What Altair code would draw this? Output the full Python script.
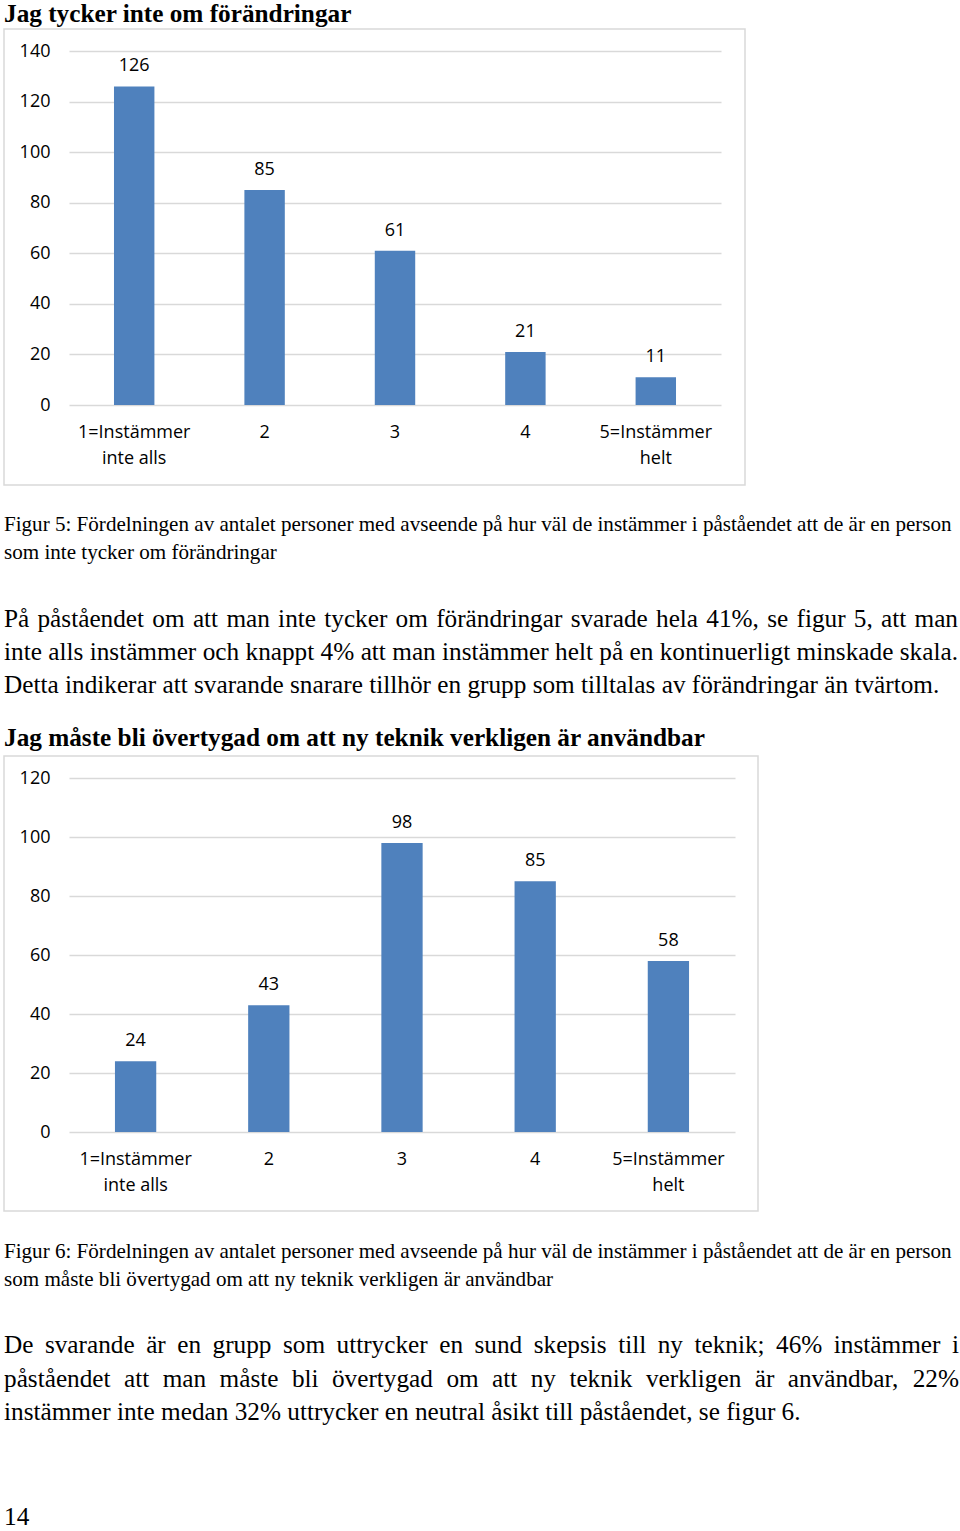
import altair as alt
import pandas as pd

# ---------------- data ----------------
categories = ["1=Instämmer|inte alls", "2", "3", "4", "5=Instämmer|helt"]
values_fig5 = [126, 85, 61, 21, 11]
values_fig6 = [24, 43, 98, 85, 58]
ticks_fig5 = [0, 20, 40, 60, 80, 100, 120, 140]
ticks_fig6 = [0, 20, 40, 60, 80, 100, 120]

title1 = "Jag tycker inte om förändringar"
title2 = "Jag måste bli övertygad om att ny teknik verkligen är användbar"
caption1 = [
    "Figur 5: Fördelningen av antalet personer med avseende på hur väl de instämmer i påståendet att de är en person",
    "som inte tycker om förändringar",
]
para1 = [
    "På påståendet om att man inte tycker om förändringar svarade hela 41%, se figur 5, att man",
    "inte alls instämmer och knappt 4% att man instämmer helt på en kontinuerligt minskade skala.",
    "Detta indikerar att svarande snarare tillhör en grupp som tilltalas av förändringar än tvärtom.",
]
caption2 = [
    "Figur 6: Fördelningen av antalet personer med avseende på hur väl de instämmer i påståendet att de är en person",
    "som måste bli övertygad om att ny teknik verkligen är användbar",
]
para2 = [
    "De svarande är en grupp som uttrycker en sund skepsis till ny teknik; 46% instämmer i",
    "påståendet att man måste bli övertygad om att ny teknik verkligen är användbar, 22%",
    "instämmer inte medan 32% uttrycker en neutral åsikt till påståendet, se figur 6.",
]
page_number = "14"

# ---------------- layout constants ----------------
W, H = 960, 1531
BAR = "#4F81BD"
GRID = "#d9d9d9"
SANS = "Open Sans"
SERIF = "Liberation Serif"

# Times metrics (per 1000 em) for text fitting
TR = {' ': 250, '%': 833, ',': 250, '.': 250, ':': 278, ';': 278,
      'D': 722, 'F': 556, 'P': 556, 'J': 389,
      'a': 444, 'b': 500, 'c': 444, 'd': 500, 'e': 444, 'f': 333, 'g': 500,
      'h': 500, 'i': 278, 'j': 278, 'k': 500, 'l': 278, 'm': 778, 'n': 500,
      'o': 500, 'p': 500, 'q': 500, 'r': 333, 's': 389, 't': 278, 'u': 500,
      'v': 500, 'w': 722, 'x': 500, 'y': 500, 'z': 444, 'å': 444, 'ä': 444, 'ö': 500}
TB = {' ': 250, 'J': 500,
      'a': 500, 'b': 556, 'c': 444, 'd': 556, 'e': 444, 'f': 333, 'g': 500,
      'h': 556, 'i': 278, 'j': 333, 'k': 556, 'l': 278, 'm': 833, 'n': 556,
      'o': 500, 'p': 556, 'q': 556, 'r': 444, 's': 389, 't': 333, 'u': 556,
      'v': 500, 'w': 722, 'x': 500, 'y': 500, 'z': 444, 'å': 500, 'ä': 500, 'ö': 500}


def em(s, table):
    return sum(table.get(c, 500) for c in s) / 1000.0


X0 = 4
para_size = (936 / em(para1[2], TR) + 797 / em(para2[2], TR)) / 2
cap_size = (273 / em(caption1[1], TR) + 549 / em(caption2[1], TR)) / 2
title_size = (348 / em(title1, TB) + 702 / em(title2, TB)) / 2


def place(lines, ys, size, justify_to=None, justified=()):
    rows = []
    for i, (line, y) in enumerate(zip(lines, ys)):
        if i in justified:
            words = line.split(" ")
            widths = [em(w, TR) * size for w in words]
            gap = (justify_to - X0 - sum(widths)) / (len(words) - 1)
            x = X0
            for w, wd in zip(words, widths):
                rows.append({"t": w, "x": x, "y": y, "s": size})
                x += wd + gap
        else:
            rows.append({"t": line, "x": X0, "y": y, "s": size})
    return rows


regular_rows = []
regular_rows += place(caption1, [525, 553], cap_size)
regular_rows += place(para1, [619, 652, 685], para_size, 958, (0, 1))
regular_rows += place(caption2, [1252, 1280], cap_size)
regular_rows += place(para2, [1345, 1379, 1412], para_size, 959, (0, 1))
regular_rows += place([page_number], [1517], para_size)
bold_rows = place([title1], [14], title_size) + place([title2], [738], title_size)

texts_regular = alt.Chart(pd.DataFrame(regular_rows)).mark_text(
    align="left", baseline="middle", font=SERIF, color="black"
).encode(
    x=alt.X("x:Q", scale=None), y=alt.Y("y:Q", scale=None),
    text="t:N", size=alt.Size("s:Q", scale=None),
)
texts_bold = alt.Chart(pd.DataFrame(bold_rows)).mark_text(
    align="left", baseline="middle", font=SERIF, fontWeight="bold", color="black"
).encode(
    x=alt.X("x:Q", scale=None), y=alt.Y("y:Q", scale=None),
    text="t:N", size=alt.Size("s:Q", scale=None),
)


def frame(x1, x2, y1, y2):
    return alt.Chart(pd.DataFrame({"k": [0]})).mark_rect(
        fill="white", fillOpacity=0, stroke=GRID, strokeWidth=1.5
    ).encode(x=alt.value(x1), x2=alt.value(x2), y=alt.value(y1), y2=alt.value(y2))


def bar_chart(vals, ticks, x_range, y_range):
    df = pd.DataFrame({"cat": categories, "val": vals})
    zero_px = y_range[0]
    x = alt.X(
        "cat:N", sort=categories,
        scale=alt.Scale(range=x_range, paddingInner=0.69, paddingOuter=0.345),
        axis=alt.Axis(
            orient="bottom", offset=-(H - zero_px), title=None, domain=False,
            ticks=False, grid=False, labelAngle=0,
            labelExpr="split(datum.label, '|')", labelPadding=18,
            labelLineHeight=26, labelFontSize=18, labelFont=SANS,
            labelColor="black", labelBaseline="top",
        ),
    )
    y = alt.Y(
        "val:Q",
        scale=alt.Scale(domain=[ticks[0], ticks[-1]], range=y_range, nice=False),
        axis=alt.Axis(
            orient="left", offset=-50, values=ticks, title=None, domain=False,
            ticks=False, grid=True, gridColor=GRID, gridWidth=1.5,
            labelPadding=0, labelFontSize=18, labelFont=SANS, labelColor="black",
        ),
    )
    bars = alt.Chart(df).mark_bar(color=BAR).encode(x=x, y=y)
    labels = alt.Chart(df).mark_text(
        dy=-20, fontSize=18, font=SANS, color="black", baseline="middle"
    ).encode(x=x, y=y, text="val:Q")
    return alt.layer(bars, labels)


chart1 = bar_chart(values_fig5, ticks_fig5, [69, 721], [405, 51])
chart2 = bar_chart(values_fig6, ticks_fig6, [69, 735], [1132, 778])

chart = alt.layer(
    frame(4, 745, 29, 485),
    frame(4, 758, 756, 1211),
    chart1,
    chart2,
    texts_regular,
    texts_bold,
).resolve_scale(x="independent", y="independent").resolve_axis(
    x="independent", y="independent"
).properties(
    width=W, height=H, padding=0, autosize=alt.AutoSizeParams(type="none"),
    background="white",
).configure_view(stroke=None)

chart.save("out.html", embed_options={"renderer": "svg", "actions": False})
